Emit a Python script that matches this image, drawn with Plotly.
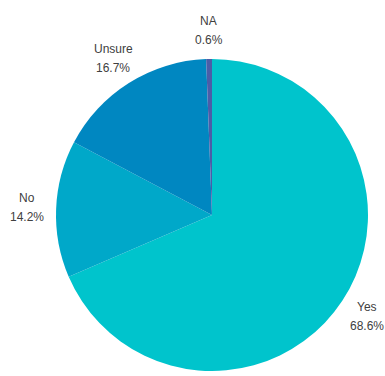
import math
import plotly.graph_objects as go

labels = ["Yes", "No", "Unsure", "NA"]
values = [68.6, 14.2, 16.7, 0.6]
colors = ["#00C4CC", "#00A8C9", "#0087C1", "#4B5DA8"]

W, H = 385, 376
CX, CY, R = 212, 215, 156      # pie centre / radius in pixels
LABEL_R = 185                  # distance of label centres from pie centre
LINE_GAP = 19                  # spacing between the two label lines
FONT = dict(family="Liberation Sans, Arial, sans-serif", size=12, color="#404040")

fig = go.Figure(go.Pie(
    labels=labels,
    values=values,
    sort=False,
    direction="clockwise",
    rotation=0,
    marker=dict(colors=colors, line=dict(width=0)),
    textposition="none",
    hoverinfo="label+value",
    showlegend=False,
    domain=dict(x=[(CX - R) / W, (CX + R) / W],
                y=[1 - (CY + R) / H, 1 - (CY - R) / H]),
))

total = sum(values)
cum = 0.0
annotations = []
for lab, v in zip(labels, values):
    mid = (cum + v / 2) / total * 2 * math.pi
    cum += v
    px = CX + LABEL_R * math.sin(mid)
    py = CY - LABEL_R * math.cos(mid)
    for text, shift in ((lab, LINE_GAP / 2), (f"{v:.1f}%", -LINE_GAP / 2)):
        annotations.append(dict(
            x=px / W, y=1 - py / H, xref="paper", yref="paper",
            text=text, showarrow=False, xanchor="center", yanchor="middle",
            yshift=shift, font=FONT,
        ))

fig.update_layout(
    width=W, height=H,
    margin=dict(l=0, r=0, t=0, b=0),
    paper_bgcolor="white",
    plot_bgcolor="white",
    annotations=annotations,
)

fig.write_html(
    "out.html",
    config={"displayModeBar": False},
    post_script="document.body.style.margin='0';document.body.style.overflow='hidden';",
)
